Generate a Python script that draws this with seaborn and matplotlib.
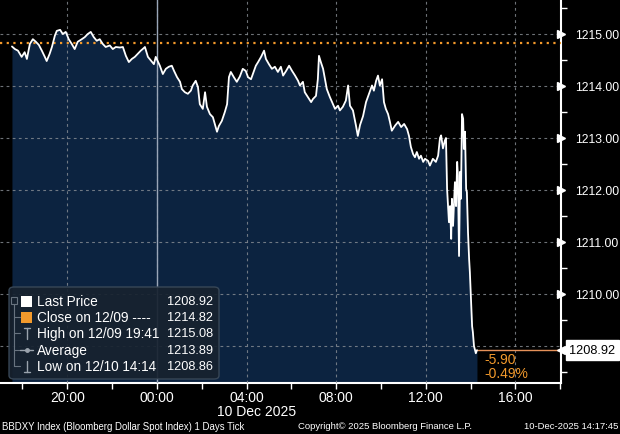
import pandas as pd
import matplotlib
matplotlib.use("Agg")
import matplotlib.pyplot as plt
import matplotlib.dates as mdates
from matplotlib.ticker import MultipleLocator, FuncFormatter
from matplotlib.patches import FancyBboxPatch, Rectangle
from matplotlib.lines import Line2D
import seaborn as sns

# tick data: minutes from 10 Dec 2025 00:00, price
minutes = [
    -388, -380, -372, -367, -362, -354, -348, -340, -332, -324, -316, -308,
    -300, -295, -287, -281, -273, -268, -259, -252, -244, -236, -228, -220,
    -212, -201, -193, -185, -177, -169, -161, -153, -145, -137, -126, -118,
    -110, -99, -91, -83, -75, -67, -59, -51, -43, -38, -32, -24, -16, -8, -3,
    8, 16, 24, 32, 40, 46, 54, 62, 67, 75, 83, 91, 96, 104, 110, 115, 123,
    129, 134, 142, 150, 155, 161, 166, 174, 182, 188, 193, 198, 206, 214,
    222, 230, 238, 244, 252, 257, 265, 271, 279, 287, 292, 300, 308, 316,
    324, 332, 338, 346, 354, 362, 370, 378, 383, 391, 396, 404, 413, 418,
    426, 431, 434, 439, 445, 450, 455, 463, 469, 477, 485, 490, 498, 506,
    512, 517, 525, 533, 538, 544, 552, 560, 568, 576, 581, 587, 592, 597,
    603, 608, 613, 619, 624, 629, 638, 646, 654, 662, 670, 675, 680, 686,
    691, 696, 702, 707, 713, 718, 726, 731, 739, 747, 753, 758, 761, 766,
    771, 774, 777, 782, 785, 788, 790, 793, 798, 801, 804, 806, 809, 812,
    814, 817, 820, 822, 825, 828, 830, 833, 836, 838, 841, 844, 846, 849,
    854, 857,
]
prices = [
    1214.76, 1214.71, 1214.68, 1214.62, 1214.56, 1214.65, 1214.52, 1214.81,
    1214.90, 1214.85, 1214.79, 1214.68, 1214.56, 1214.48, 1214.62, 1214.75,
    1214.97, 1215.06, 1215.08, 1215.00, 1215.04, 1214.90, 1214.81, 1214.71,
    1214.85, 1214.90, 1214.94, 1215.00, 1215.04, 1214.94, 1214.87, 1214.90,
    1214.81, 1214.75, 1214.78, 1214.71, 1214.75, 1214.74, 1214.75, 1214.58,
    1214.46, 1214.52, 1214.56, 1214.62, 1214.68, 1214.71, 1214.75, 1214.56,
    1214.49, 1214.42, 1214.56,
    1214.39, 1214.23, 1214.33, 1214.37, 1214.39, 1214.29, 1214.17, 1214.08,
    1213.94, 1213.88, 1213.85, 1213.91, 1214.01, 1214.10, 1213.98, 1213.65,
    1213.56, 1213.88, 1213.60, 1213.46, 1213.40, 1213.27, 1213.12, 1213.23,
    1213.33, 1213.50, 1213.65, 1214.17, 1214.27, 1214.17, 1214.08, 1214.18,
    1214.33, 1214.29, 1214.17, 1214.13, 1214.23, 1214.39, 1214.46, 1214.56,
    1214.68, 1214.52, 1214.42, 1214.33, 1214.37, 1214.27, 1214.37, 1214.20,
    1214.29, 1214.39, 1214.29, 1214.20, 1214.10, 1214.01, 1214.08, 1213.88,
    1213.79, 1213.69, 1213.75, 1213.81, 1214.13, 1214.58, 1214.46, 1214.33,
    1214.13, 1213.94, 1213.79, 1213.69, 1213.56, 1213.62, 1213.53, 1213.60,
    1213.72, 1214.01, 1213.62, 1213.53, 1213.24, 1213.04, 1213.25, 1213.42,
    1213.69, 1213.85, 1214.01, 1213.91, 1214.10, 1214.20, 1214.01, 1214.13,
    1213.69, 1213.56, 1213.46, 1213.31, 1213.14, 1213.24, 1213.31, 1213.21,
    1213.27, 1213.17, 1213.04, 1212.83, 1212.69, 1212.63, 1212.73, 1212.60,
    1212.66, 1212.54, 1212.60, 1212.56, 1212.47, 1212.60, 1212.54, 1212.66,
    1213.00, 1213.05, 1212.80, 1212.95, 1213.00, 1212.02, 1211.38, 1211.69,
    1211.06, 1211.83, 1211.31, 1212.15, 1211.69, 1212.54, 1212.27, 1210.73,
    1212.35, 1211.83, 1213.46, 1213.37, 1212.79, 1213.12, 1212.02, 1211.96,
    1211.19, 1210.67, 1210.42, 1209.90, 1209.38, 1209.27, 1209.00, 1208.86,
    1208.92,
]

prev_close = 1214.82
last_price = 1208.92
change_text = ["-5.90", "-0.49%"]
legend_rows = [
    ("Last Price", "1208.92"),
    ("Close on 12/09 ----", "1214.82"),
    ("High on 12/09 19:41", "1215.08"),
    ("Average", "1213.89"),
    ("Low on 12/10 14:14", "1208.86"),
]

ORANGE = "#f39a2c"
NAVY = "#0c2340"
GRID = "#8a8f96"

day0 = pd.Timestamp("2025-12-10")
df = pd.DataFrame({"time": day0 + pd.to_timedelta(minutes, unit="min"), "price": prices})

sns.set_style("dark", rc={"axes.facecolor": "black", "figure.facecolor": "black"})
plt.rcParams["font.family"] = ["Liberation Sans", "DejaVu Sans"]

W, H = 620, 435
fig = plt.figure(figsize=(W / 100, H / 100), dpi=100)
ax = fig.add_axes([0, 51 / H, 561 / W, 384 / H])

y_lo, y_hi = 1208.288, 1215.673
ax.fill_between(df["time"], df["price"], y_lo, color=NAVY, lw=0, zorder=1)
sns.lineplot(data=df, x="time", y="price", ax=ax, color="white", lw=1.3, zorder=4)

# previous close (dotted) and last price line
ax.axhline(prev_close, color=ORANGE, lw=1.6, ls=(0, (1, 2)), zorder=3)
ax.plot([df["time"].iloc[-1], pd.Timestamp("2025-12-10 18:05")], [last_price, last_price],
        color="#e6925a", lw=1, zorder=3)

ax.set_xlim(pd.Timestamp("2025-12-09 17:00"), pd.Timestamp("2025-12-10 18:02"))
ax.set_ylim(y_lo, y_hi)

ax.xaxis.set_major_locator(mdates.HourLocator(byhour=range(0, 24, 4)))
ax.xaxis.set_minor_locator(mdates.HourLocator(byhour=range(0, 24, 2)))
ax.xaxis.set_major_formatter(mdates.DateFormatter("%H:%M"))
ax.yaxis.set_major_locator(MultipleLocator(1))
ax.yaxis.set_minor_locator(MultipleLocator(0.5))
# the 1209.00 label sits under the last price tag in the original, so leave it blank
ax.yaxis.set_major_formatter(FuncFormatter(lambda v, p: "" if v < 1209.5 else f"{v:.2f}"))
ax.yaxis.tick_right()

ax.set_axisbelow(False)
ax.grid(True, which="major", color=GRID, lw=0.8, ls=(0, (2.5, 3)), alpha=0.8)
ax.axvline(day0, color="#9aa6b8", lw=1, zorder=2.6)

ax.tick_params(axis="x", which="both", colors="white", direction="out", length=4, width=1,
               labelsize=10, pad=1, bottom=True)
ax.tick_params(axis="y", which="major", colors="white", length=0, labelsize=8.8, pad=10,
               right=True, left=False)
ax.tick_params(axis="y", which="minor", colors="white", direction="out", length=4, width=1,
               right=True, left=False)
ax.set_xlabel("")
ax.set_ylabel("")

for side in ["top", "left"]:
    ax.spines[side].set_visible(False)
for side in ["bottom", "right"]:
    ax.spines[side].set_visible(True)
    ax.spines[side].set_color("white")
    ax.spines[side].set_linewidth(1.5)

# white triangles on the major y ticks
yt = list(range(1210, 1216))
ax.plot([1.0] * len(yt), yt, transform=ax.get_yaxis_transform(), ls="none", marker=">",
        ms=6, color="white", clip_on=False, zorder=5)

# last price tag on the axis
ax.annotate(f"{last_price:.2f}", xy=(1.0, last_price), xycoords=ax.get_yaxis_transform(),
            xytext=(6, 0), textcoords="offset points", ha="left", va="center", fontsize=9.2,
            color="black", bbox=dict(boxstyle="square,pad=0.3", fc="white", ec="white"),
            annotation_clip=False, zorder=10)
ax.plot([1.0], [last_price], transform=ax.get_yaxis_transform(), marker="<", ms=6,
        color="white", clip_on=False, zorder=11)

# change texts next to the last price
for i, s in enumerate(change_text):
    fig.text(484 / W, 1 - (360 + 14 * i) / H, s, color=ORANGE, fontsize=10, va="center")


def fx(x):
    return x / W


def fy(y):
    return 1 - y / H


# custom legend panel
fig.patches.append(FancyBboxPatch((fx(9), fy(380)), fx(210), 92 / H,
                                  boxstyle="round,pad=0,rounding_size=0.008",
                                  transform=fig.transFigure, fc="#17222f", ec="#3b4a5a",
                                  lw=1, alpha=0.92, zorder=10))
row_y = [302, 318, 334, 351, 367]
tree = "#68737f"
fig.lines.append(Line2D([fx(14), fx(14)], [fy(305), fy(367)], transform=fig.transFigure,
                        color=tree, lw=0.8, zorder=11))
fig.patches.append(Rectangle((fx(11), fy(305)), fx(6), 7 / H, transform=fig.transFigure,
                             fc="none", ec=tree, lw=0.8, zorder=11))
for yy in row_y[1:]:
    fig.lines.append(Line2D([fx(14), fx(20)], [fy(yy), fy(yy)], transform=fig.transFigure,
                            color=tree, lw=0.8, zorder=11))
# icons
fig.patches.append(Rectangle((fx(21), fy(308)), fx(11), 11 / H, transform=fig.transFigure,
                             fc="white", ec="none", zorder=11))
fig.patches.append(Rectangle((fx(21), fy(324)), fx(11), 11 / H, transform=fig.transFigure,
                             fc=ORANGE, ec="none", zorder=11))
icon = "#9aa3ad"
for xs, ys in [([27, 27], [329, 340]), ([24, 30], [329, 329]),
               ([20, 33], [351, 351]), ([27, 27], [362, 373]), ([24, 30], [373, 373])]:
    fig.lines.append(Line2D([fx(v) for v in xs], [fy(v) for v in ys], transform=fig.transFigure,
                            color=icon, lw=1, zorder=11))
fig.lines.append(Line2D([fx(27)], [fy(351)], transform=fig.transFigure, marker="o", ms=2.5,
                        color=icon, zorder=11))
for (label, val), yy in zip(legend_rows, row_y):
    fig.text(fx(37), fy(yy), label, color="white", fontsize=9.8, va="center", zorder=12)
    fig.text(fx(213), fy(yy), val, color="white", fontsize=9.2, va="center", ha="right", zorder=12)

# date and footer
fig.text(fx(257), fy(412), "10 Dec 2025", color="white", fontsize=10, ha="center", va="center")
fig.text(fx(2), fy(427), "BBDXY Index (Bloomberg Dollar Spot Index) 1 Days Tick",
         color="white", fontsize=6.9, va="center")
fig.text(fx(298), fy(427), "Copyright\u00a9 2025 Bloomberg Finance L.P.", color="white",
         fontsize=6.8, va="center")
fig.text(fx(618), fy(427), "10-Dec-2025 14:17:45", color="white", fontsize=6.8,
         va="center", ha="right")

fig.savefig("out.png", dpi=100, facecolor="black")
